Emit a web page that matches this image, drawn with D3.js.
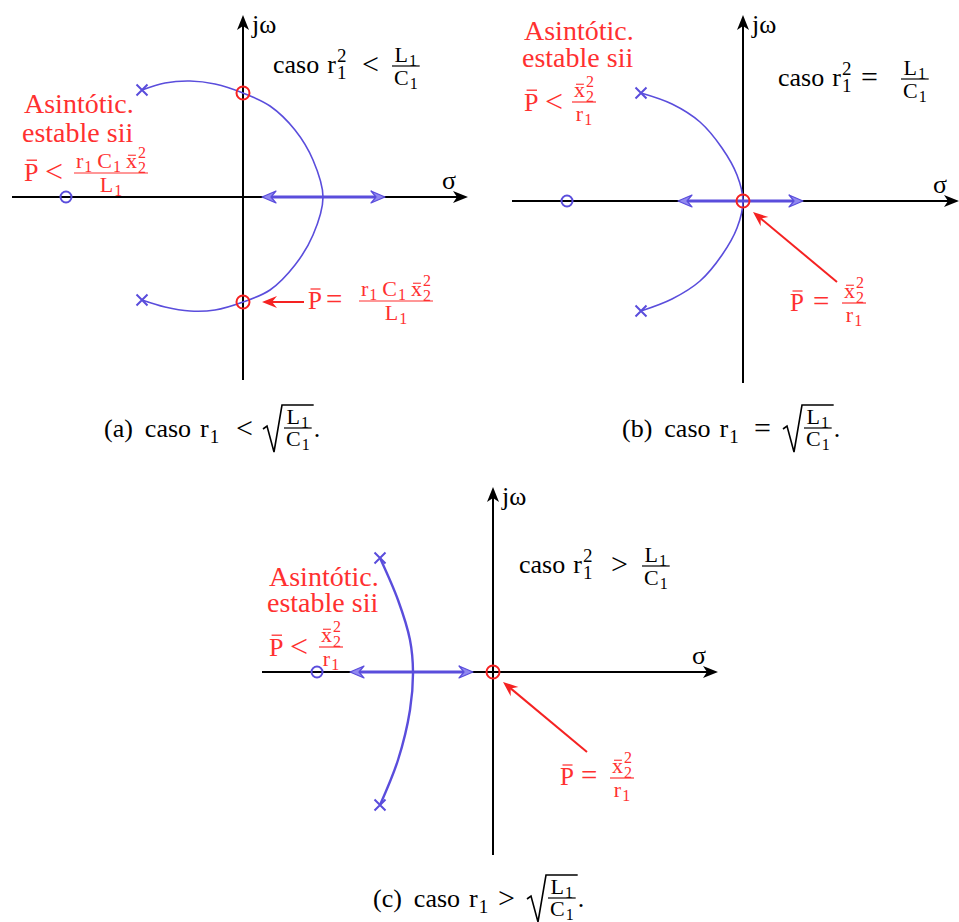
<!DOCTYPE html>
<html><head><meta charset="utf-8">
<script src="https://cdn.jsdelivr.net/npm/d3@7"></script>
<style>
  body { margin: 0; background: #fff; }
  text { font-family: "Liberation Serif", "DejaVu Serif", serif; }
</style>
</head><body>
<svg id="c" width="959" height="922"></svg>
<script>
// ---------- s-plane data (σ, ω in plot units) ----------
const axisSigmaA = [-2.31, 2.25], axisOmegaA = [-1.83, 1.82];
const axisSigmaB = [-2.31, 2.16], axisOmegaB = [-1.82, 1.86];
const axisSigmaC = [-2.31, 2.25], axisOmegaC = [-1.83, 1.85];

const polesA = [[-1.01, 1.07], [-1.01, -1.03]];
const polesB = [[-1.02, 1.08], [-1.02, -1.10]];
const polesC = [[-1.13, 1.14], [-1.13, -1.33]];

const zerosA = [[-1.77, 0]];
const zerosB = [[-1.76, 0]];
const zerosC = [[-1.76, 0]];

// points where the locus meets the stability limit
const limitA = [[0, 1.04], [0, -1.05]];
const limitB = [[0, 0]];
const limitC = [[0, 0]];

// branch lying on the real axis (σ from, σ to)
const realBranchA = [0.19, 1.42];
const realBranchB = [-0.65, 0.60];
const realBranchC = [-1.43, -0.20];

// complex branches joining the two poles
const locusA = [[-1.01, 1.07], [-0.78, 1.14], [-0.53, 1.16], [-0.28, 1.13], [0, 1.04], [0.27, 0.91],
  [0.52, 0.67], [0.70, 0.37], [0.80, 0], [0.70, -0.38], [0.52, -0.68], [0.27, -0.93], [0, -1.05],
  [-0.28, -1.13], [-0.53, -1.14], [-0.78, -1.10], [-1.01, -1.03]];
const locusB = [[-1.02, 1.08], [-0.71, 0.97], [-0.43, 0.79], [-0.21, 0.53], [-0.06, 0.26], [0, 0],
  [-0.06, -0.27], [-0.21, -0.54], [-0.43, -0.80], [-0.71, -0.98], [-1.02, -1.10]];
const locusC = [[-1.13, 1.14], [-0.95, 0.72], [-0.83, 0.32], [-0.80, 0], [-0.83, -0.38],
  [-0.95, -0.88], [-1.13, -1.33]];

// ---------- styles ----------
const BLUE = "#5a4ddc", BLUE_FILL = "#9088f0", RED = "#f52222", RED_TXT = "#ff3030", BLACK = "#000";
const MAIN = 26, SUB = 19, REL = 30, FR = 22, FS = 16, REDBIG = 28, ANN = 25;
const PX_PER_UNIT = 100;

const svg = d3.select("#c");
svg.append("rect").attr("width", 959).attr("height", 922).attr("fill", "#fff");

// ---------- helpers ----------
function headPath(tx, ty, ang, len, half, notch) {
  const c = Math.cos(ang), s = Math.sin(ang);
  const p = (a, b) => [tx - a * c - b * s, ty - a * s + b * c];
  return "M" + [p(0, 0), p(len, half), p(notch, 0), p(len, -half)].map(q => q.join(",")).join("L") + "Z";
}

// text run: items {t, s, r (rise), gap, bar} or scripts {sub, sup, s, subR, supR, gap}
function run(g, x, y, items, color) {
  let cur = x;
  items.forEach(it => {
    const s = it.s || MAIN;
    const sx = cur + (it.gap || 0);
    if (it.sub !== undefined) {
      // subscript and superscript stacked in one text element
      const t = g.append("text").attr("font-size", s).attr("fill", color);
      const a = t.append("tspan").attr("x", sx).attr("y", y - it.subR).text(it.sub);
      const b = t.append("tspan").attr("x", sx).attr("y", y - it.supR).text(it.sup);
      const w = Math.max(a.node().getComputedTextLength(), b.node().getComputedTextLength());
      cur = sx + w;
      return;
    }
    const yy = y - (it.r || 0);
    const t = g.append("text").attr("x", sx).attr("y", yy).attr("font-size", s).attr("fill", color).text(it.t);
    const w = t.node().getComputedTextLength();
    if (it.bar) {
      const top = yy - s * it.bar;
      g.append("line").attr("x1", sx + w * 0.18).attr("x2", sx + w * 0.9)
        .attr("y1", top).attr("y2", top).attr("stroke", color).attr("stroke-width", Math.max(1, s / 20));
    }
    cur = sx + w;
  });
  return cur - x;
}

function frac(g, x, axis, num, den, color, o = {}) {
  const gn = g.append("g"), gd = g.append("g");
  const wn = run(gn, 0, 0, num, color), wd = run(gd, 0, 0, den, color);
  const W = Math.max(wn, wd) + (o.pad ?? 2) * 2;
  gn.attr("transform", `translate(${x + (W - wn) / 2},${axis - (o.up ?? 5)})`);
  gd.attr("transform", `translate(${x + (W - wd) / 2},${axis + (o.dn ?? 19)})`);
  g.append("line").attr("x1", x).attr("x2", x + W).attr("y1", axis).attr("y2", axis)
    .attr("stroke", color).attr("stroke-width", 1.2);
  return W;
}

const L1 = [{ t: "L", s: FR }, { t: "1", s: FS, r: -4, gap: 1 }];
const C1 = [{ t: "C", s: FR }, { t: "1", s: FS, r: -4, gap: 1 }];
const R1 = [{ t: "r", s: FR }, { t: "1", s: FS, r: -4, gap: 1 }];
const X22 = [{ t: "x", s: FR, bar: 0.58 }, { sub: "2", sup: "2", s: FS, subR: -5, supR: 10, gap: 1 }];
const RCX = [{ t: "r", s: FR }, { t: "1", s: FS, r: -4, gap: 1 }, { t: "C", s: FR, gap: 5 }, { t: "1", s: FS, r: -4, gap: 1 },
  { t: "x", s: FR, gap: 5, bar: 0.58 }, { sub: "2", sup: "2", s: FS, subR: -5, supR: 10, gap: 1 }];

function txt(g, x, y, t, s, color, anchor) {
  return g.append("text").attr("x", x).attr("y", y).attr("font-size", s).attr("fill", color)
    .attr("text-anchor", anchor || "start").text(t);
}

// ---------- one s-plane panel ----------
function drawPlane(cfg) {
  const [ox, oy] = cfg.origin;
  const x = d3.scaleLinear().domain([0, 1]).range([ox, ox + PX_PER_UNIT]);
  const y = d3.scaleLinear().domain([0, 1]).range([oy, oy - PX_PER_UNIT]);
  const g = svg.append("g");

  // axes
  g.append("line").attr("x1", x(cfg.sigma[0])).attr("x2", x(cfg.sigma[1]) - 8)
    .attr("y1", y(0)).attr("y2", y(0)).attr("stroke", BLACK).attr("stroke-width", 2);
  g.append("path").attr("d", headPath(x(cfg.sigma[1]), y(0), 0, 15, 6, 11)).attr("fill", BLACK);
  g.append("line").attr("x1", x(0)).attr("x2", x(0))
    .attr("y1", y(cfg.omega[0])).attr("y2", y(cfg.omega[1]) + 8).attr("stroke", BLACK).attr("stroke-width", 2);
  g.append("path").attr("d", headPath(x(0), y(cfg.omega[1]), -Math.PI / 2, 15, 6, 11)).attr("fill", BLACK);
  txt(g, x(0) + 9, y(cfg.omega[1]) + 18, "jω", MAIN, BLACK);
  txt(g, x(cfg.sigma[1]) - 26, y(0) - 8, "σ", MAIN, BLACK);

  // complex branches
  g.append("path").datum(cfg.locus)
    .attr("d", d3.line().x(d => x(d[0])).y(d => y(d[1])).curve(d3.curveCatmullRom.alpha(0.5)))
    .attr("fill", "none").attr("stroke", BLUE).attr("stroke-width", cfg.lw);

  // real-axis branch with arrows at both ends
  const [b0, b1] = cfg.branch;
  g.append("line").attr("x1", x(b0) + 6).attr("x2", x(b1) - 6).attr("y1", y(0)).attr("y2", y(0))
    .attr("stroke", BLUE).attr("stroke-width", 3);
  [[b0, Math.PI], [b1, 0]].forEach(([v, a]) => {
    g.append("path").attr("d", headPath(x(v), y(0), a, 14, 6, 9))
      .attr("fill", BLUE_FILL).attr("stroke", BLUE).attr("stroke-width", 1.2).attr("stroke-linejoin", "round");
  });

  // zeros
  g.selectAll(null).data(cfg.zeros).join("circle")
    .attr("cx", d => x(d[0])).attr("cy", d => y(d[1])).attr("r", 5.5)
    .attr("fill", "none").attr("stroke", BLUE).attr("stroke-width", 2);
  // poles
  g.selectAll(null).data(cfg.poles).join("path")
    .attr("d", d => { const px = x(d[0]), py = y(d[1]), h = 5.5;
      return `M${px - h},${py - h}L${px + h},${py + h}M${px - h},${py + h}L${px + h},${py - h}`; })
    .attr("stroke", BLUE).attr("stroke-width", 2);
  // crossing of the stability limit
  g.selectAll(null).data(cfg.limit).join("circle")
    .attr("cx", d => x(d[0])).attr("cy", d => y(d[1])).attr("r", 6.5)
    .attr("fill", "none").attr("stroke", RED).attr("stroke-width", 2);
  return { g, x, y };
}

function redArrow(g, x1, y1, x2, y2) {
  const a = Math.atan2(y2 - y1, x2 - x1);
  g.append("line").attr("x1", x1).attr("y1", y1).attr("x2", x2 - 8 * Math.cos(a)).attr("y2", y2 - 8 * Math.sin(a))
    .attr("stroke", RED).attr("stroke-width", 2);
  g.append("path").attr("d", headPath(x2, y2, a, 15, 6, 10)).attr("fill", RED);
}

function radical(g, x, top, bottom, baseY, right) {
  g.append("path")
    .attr("d", `M${x},${baseY - 8}L${x + 4},${baseY - 11}L${x + 11},${bottom}L${x + 19},${top}L${right},${top}`)
    .attr("fill", "none").attr("stroke", BLACK).attr("stroke-width", 1.6).attr("stroke-linejoin", "miter");
}

// "caso r₁² <rel> L₁/C₁" heading
function heading(g, x, y, rel, relX, fracX) {
  run(g, x, y, [{ t: "caso" }, { t: "r", gap: 8 }, { sub: "1", sup: "2", s: SUB, subR: -6, supR: 11, gap: 1 }], BLACK);
  txt(g, relX, y + 1, rel, REL, BLACK);
  frac(g, fracX, y - 7, L1, C1, BLACK, { up: 4 });
}

// stability text block in red
function stableBlock(g, x, y1, y2, y3, fracX, fracAxis, num, den) {
  txt(g, x, y1, "Asintótic.", REDBIG, RED_TXT);
  txt(g, x - 2, y2, "estable sii", REDBIG, RED_TXT);
  run(g, x, y3, [{ t: "P", s: REDBIG - 2, bar: 0.8 }], RED_TXT);
  txt(g, x + 21, y3 + 1, "<", REDBIG + 4, RED_TXT);
  frac(g, fracX, fracAxis, num, den, RED_TXT);
}

function annotation(g, x, y, eqX, fracX, fracAxis, num, den) {
  run(g, x, y, [{ t: "P", s: ANN, bar: 0.8 }], RED_TXT);
  txt(g, eqX, y, "=", ANN + 4, RED_TXT);
  frac(g, fracX, fracAxis, num, den, RED_TXT);
}

// ---------- panel (a) ----------
const A = drawPlane({ origin: [243, 197], sigma: axisSigmaA, omega: axisOmegaA, poles: polesA, zeros: zerosA,
  limit: limitA, branch: realBranchA, locus: locusA, lw: 1.6 });
heading(A.g, 273, 73, "<", 362, 392);
stableBlock(A.g, 24, 113, 142, 181, 74, 173, RCX, L1);
redArrow(A.g, 304, A.y(limitA[1][1]), 262, A.y(limitA[1][1]));
annotation(A.g, 308, 309, 326, 359, 301, RCX, L1);

// ---------- panel (b) ----------
const B = drawPlane({ origin: [743, 201], sigma: axisSigmaB, omega: axisOmegaB, poles: polesB, zeros: zerosB,
  limit: limitB, branch: realBranchB, locus: locusB, lw: 1.6 });
heading(B.g, 778, 86, "=", 861, 901);
stableBlock(B.g, 524, 40, 67, 111, 572, 102, X22, R1);
redArrow(B.g, 837, 282, B.x(0) + 10, B.y(0) + 11);
annotation(B.g, 790, 311, 813, 842, 303, X22, R1);

// ---------- panel (c) ----------
const Cp = drawPlane({ origin: [493, 672], sigma: axisSigmaC, omega: axisOmegaC, poles: polesC, zeros: zerosC,
  limit: limitC, branch: realBranchC, locus: locusC, lw: 2.4 });
heading(Cp.g, 519, 573, ">", 611, 642);
stableBlock(Cp.g, 269, 586, 612, 656, 319, 647, X22, R1);
redArrow(Cp.g, 587, 752, Cp.x(0) + 10, Cp.y(0) + 10);
annotation(Cp.g, 560, 785, 581, 610, 778, X22, R1);

// ---------- captions ----------
function caption(x, y, tag, rel, relX, radX) {
  const g = svg.append("g");
  run(g, x, y, [{ t: tag }, { t: "caso", gap: 12 }, { t: "r", gap: 9 }, { t: "1", s: SUB, r: -6, gap: 1 }], BLACK);
  txt(g, relX, y + 1, rel, REL, BLACK);
  const w = frac(g, radX + 21, y - 9, L1, C1, BLACK, { up: 4, dn: 18 });
  radical(g, radX, y - 32, y + 15, y, radX + 21 + w + 2);
  txt(g, radX + 21 + w + 2, y, ".", MAIN, BLACK);
}
caption(104, 437, "(a)", "<", 236, 263);
caption(622, 437, "(b)", "=", 754, 783);
caption(373, 907, "(c)", ">", 498, 527);
</script>
</body></html>
